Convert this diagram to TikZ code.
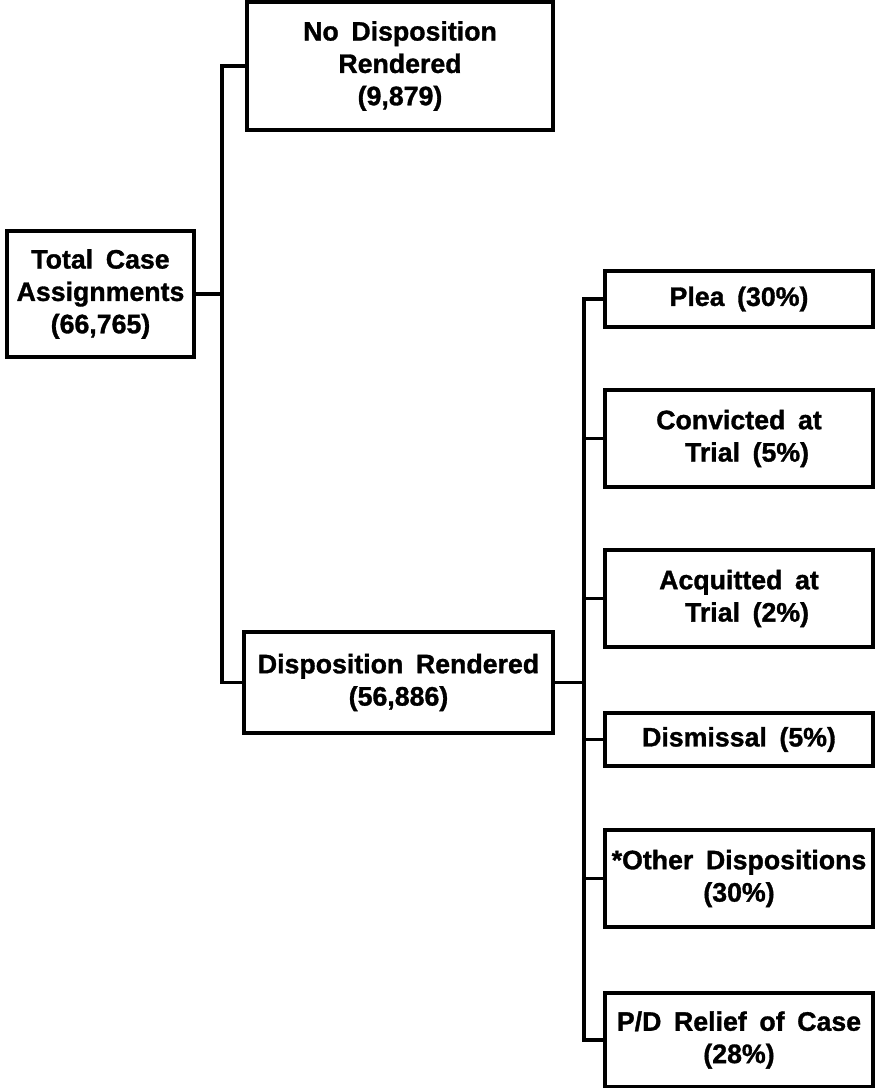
\documentclass[tikz,border=0pt]{standalone}
\usepackage{fontspec}
\setmainfont{Liberation Sans}[WordSpace=1.7,BoldFeatures={FakeBold=1.2}]
\usetikzlibrary{positioning,calc}

\tikzset{
  casebox/.style={rectangle,draw,line width=2.4pt,inner sep=0pt,align=center,
    font=\fontsize{19}{23}\selectfont\bfseries},
  outbox/.style={casebox,minimum width=6.7cm},
  link/.style={line width=2.4pt}
}

\begin{document}
\begin{tikzpicture}[x=0.025cm,y=-0.025cm]
\useasboundingbox (0,0) rectangle (877,1088);
    % Case assignments and their split
\node[casebox,minimum width=4.675cm,minimum height=3.15cm] (total) at (100.5,294) {Total Case\\Assignments\\(66,765)};
\node[casebox,minimum width=7.65cm,minimum height=3.2cm] (nodisp) at (400,66) {No Disposition\\Rendered\\(9,879)};
\node[casebox,minimum width=7.725cm,minimum height=2.525cm] (disp) at (398.5,682.5) {Disposition Rendered\\(56,886)};
    % Outcomes of rendered dispositions
\node[outbox,minimum height=1.4cm] (plea) at (739,299) {Plea (30\%)};
\node[outbox,minimum height=2.425cm] (convict) at (739,438.5) {Convicted at\\\hspace*{0.6em}Trial (5\%)};
\node[outbox,minimum height=2.425cm] (acquit) at (739,598.5) {Acquitted at\\\hspace*{0.6em}Trial (2\%)};
\node[outbox,minimum height=1.325cm] (dismiss) at (739,739.5) {Dismissal (5\%)};
\node[outbox,minimum height=2.425cm] (other) at (739,878.5) {*Other Dispositions\\(30\%)};
\node[outbox,minimum height=2.35cm] (relief) at (739,1040) {P/D Relief of Case\\(28\%)};
    % Connecting lines
\coordinate (busA) at (222,0);
\coordinate (busB) at (584,0);
\draw[link] (total.east) -- (total.east -| busA);
\draw[link] (nodisp.west) -| (busA |- disp.west) -- (disp.west);
\draw[link] (disp.east) -- (disp.east -| busB);
\draw[link] (plea.west) -| (busB |- relief.west) -- (relief.west);
\foreach \n in {convict,acquit,dismiss,other}
  \draw[link] (\n.west) -- (\n.west -| busB);
\end{tikzpicture}
\end{document}
